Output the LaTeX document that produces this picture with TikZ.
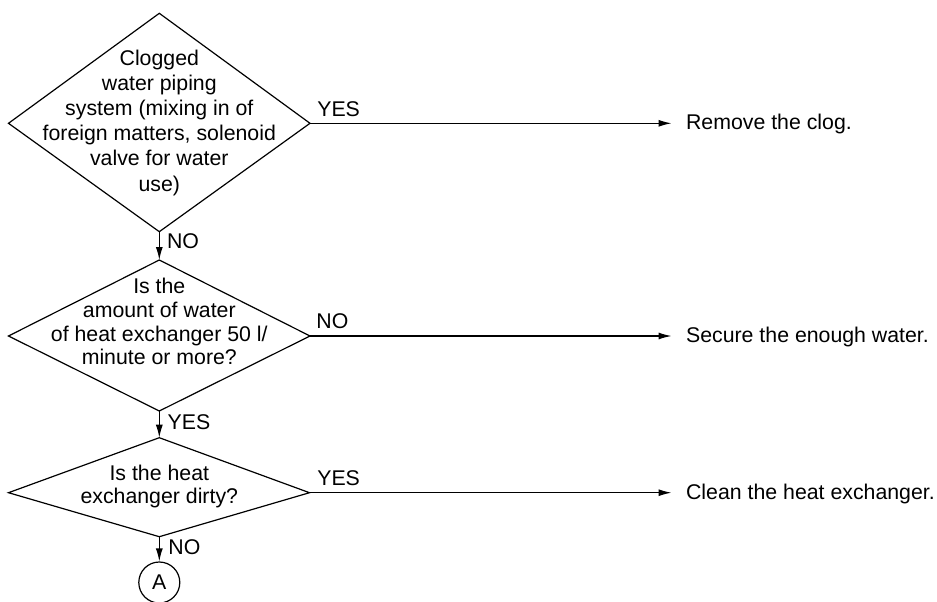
\documentclass[tikz,border=0pt]{standalone}
\usepackage{fontspec}
\setmainfont{Liberation Sans}
\usetikzlibrary{arrows.meta}
\begin{document}
\begin{tikzpicture}[x=1pt,y=-1pt,
  line width=1.2pt,
  flow/.style={-{Latex[length=13pt,width=7pt]}},
  qtext/.style={inner sep=0pt,align=center},
  lbl/.style={inner sep=0pt,anchor=base west},
  result/.style={inner sep=0pt,anchor=base west},
  font=\fontsize{21.3}{25}\selectfont]
\useasboundingbox (0,0) rectangle (937,602);

% decision 1
\coordinate (d1n) at (159.3,13.3);
\coordinate (d1e) at (310,123.3);
\coordinate (d1s) at (159.3,231.7);
\coordinate (d1w) at (8.5,123.3);
\draw (d1n) -- (d1e) -- (d1s) -- (d1w) -- cycle;
\node[qtext,font=\fontsize{21.3}{25.2}\selectfont] (q1) at (159.3,122.5)
  {Clogged\\water piping\\system (mixing in of\\foreign matters, solenoid\\valve for water\\use)};

% decision 2
\coordinate (d2n) at (159.3,260);
\coordinate (d2e) at (310,336);
\coordinate (d2s) at (159.3,411);
\coordinate (d2w) at (8.5,336);
\draw (d2n) -- (d2e) -- (d2s) -- (d2w) -- cycle;
\node[qtext,font=\fontsize{21.3}{23.9}\selectfont] (q2) at (159.3,321.5)
  {Is the\\amount of water\\of heat exchanger 50 l/\\minute or more?};

% decision 3
\coordinate (d3n) at (159.3,437.7);
\coordinate (d3e) at (309.5,492.7);
\coordinate (d3s) at (159.3,536.7);
\coordinate (d3w) at (8.5,492.7);
\draw (d3n) -- (d3e) -- (d3s) -- (d3w) -- cycle;
\node[qtext,font=\fontsize{21.3}{23.3}\selectfont] (q3) at (159.3,486.2)
  {Is the heat\\exchanger dirty?};

% connector circle
\node[draw,circle,minimum size=41pt,inner sep=0pt] (A) at (159.3,582.5) {A};

% actions
\node[result] (r1) at (685.5,129.6) {Remove the clog.};
\node[result] (r2) at (685.5,342.3) {Secure the enough water.};
\node[result] (r3) at (685.5,499.0) {Clean the heat exchanger.};

% horizontal branches
\draw[flow] (d1e) -- ([xshift=-14pt]d1e -| r1.west);
\draw[flow] (d2e) -- ([xshift=-14pt]d2e -| r2.west);
\draw[flow] (d3e) -- ([xshift=-14pt]d3e -| r3.west);
\node[lbl] (l1) at (316.7,116) {YES};
\node[lbl] (l2) at (315.8,328.3) {NO};
\node[lbl] (l3) at (316.7,485) {YES};

% vertical branches
\draw[flow] (d1s) -- (d2n);
\draw[flow] (d2s) -- (d3n);
\draw[flow] (d3s) -- (A.north);
\node[lbl] (v1) at (166.5,248.3) {NO};
\node[lbl] (v2) at (167,429.3) {YES};
\node[lbl] (v3) at (167.8,554.3) {NO};
\end{tikzpicture}
\end{document}
